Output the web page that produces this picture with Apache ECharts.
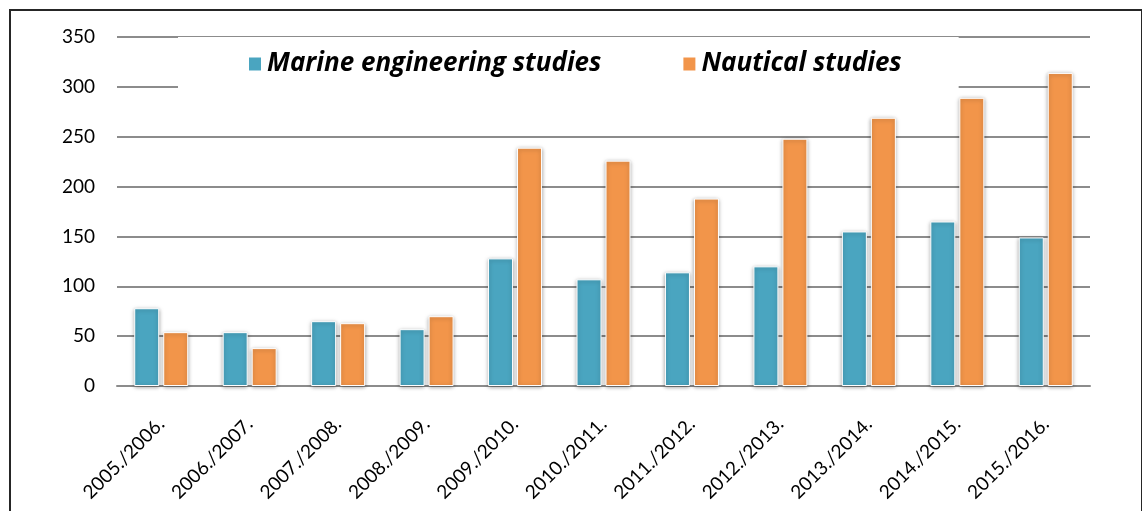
<!DOCTYPE html>
<html lang="en">
<head>
    <meta charset="UTF-8" />
    <title>Marine and nautical studies</title>
    <style>
        html, body {
            margin: 0;
            padding: 0;
            background: #fff;
        }

        #chart {
            position: absolute;
            left: 0;
            top: 0;
            width: 1142px;
            height: 511px;
        }

        .frame {
            position: absolute;
            left: 9px;
            top: 9px;
            width: 1130px;
            height: 510px;
            border: 2px solid #262626;
            border-bottom: none;
            pointer-events: none;
        }
    </style>
</head>
<body>
    <div id="chart"></div>
    <div class="frame"></div>
</body>
<script src="https://cdn.jsdelivr.net/npm/echarts@6/dist/echarts.min.js"></script>
<script type="text/javascript">
    // academic years
    var years = ['2005./2006.', '2006./2007.', '2007./2008.', '2008./2009.', '2009./2010.',
        '2010./2011.', '2011./2012.', '2012./2013.', '2013./2014.', '2014./2015.', '2015./2016.'];
    var marine = [78, 54, 65, 57, 128, 107, 114, 120, 155, 165, 149];
    var nautical = [54, 38, 63, 70, 239, 226, 188, 248, 269, 289, 314];

    var myChart = echarts.init(document.getElementById('chart'));

    var barStyle = function (color) {
        return {
            color: color,
            borderColor: '#fff',
            borderWidth: 1,
            shadowBlur: 4,
            shadowOffsetY: 1,
            shadowColor: 'rgba(0,0,0,0.35)'
        };
    };

    var option = {
        animation: false,
        grid: {
            left: 117,
            right: 52,
            top: 37,
            bottom: 125
        },
        legend: {
            left: 178,
            top: 37,
            padding: [14, 57, 15, 69],
            backgroundColor: '#fff',
            itemWidth: 14,
            itemHeight: 15,
            itemGap: 80,
            icon: 'rect',
            textStyle: {
                fontFamily: 'Open Sans',
                fontStyle: 'italic',
                fontWeight: 'bold',
                fontSize: 26,
                color: '#000'
            },
            data: ['Marine engineering studies', 'Nautical studies']
        },
        xAxis: {
            type: 'category',
            data: years,
            axisLine: { lineStyle: { color: '#8c8c8c', width: 2 } },
            axisTick: { show: false },
            axisLabel: {
                rotate: 45,
                margin: 35,
                fontFamily: 'Lato',
                fontSize: 19,
                color: '#000'
            }
        },
        yAxis: {
            type: 'value',
            min: 0,
            max: 350,
            interval: 50,
            axisLine: { show: false },
            axisTick: { show: false },
            axisLabel: {
                margin: 22,
                fontFamily: 'Lato',
                fontSize: 19,
                color: '#000'
            },
            splitLine: { lineStyle: { color: '#8c8c8c', width: 2 } }
        },
        series: [
            {
                name: 'Marine engineering studies',
                type: 'bar',
                data: marine,
                barWidth: 25,
                barGap: '16%',
                itemStyle: barStyle('#4aa5c0')
            },
            {
                name: 'Nautical studies',
                type: 'bar',
                data: nautical,
                barWidth: 25,
                barGap: '16%',
                itemStyle: barStyle('#f2954a')
            }
        ]
    };

    myChart.setOption(option);
    window.onresize = function () {
        myChart.resize();
    };
</script>
</html>
